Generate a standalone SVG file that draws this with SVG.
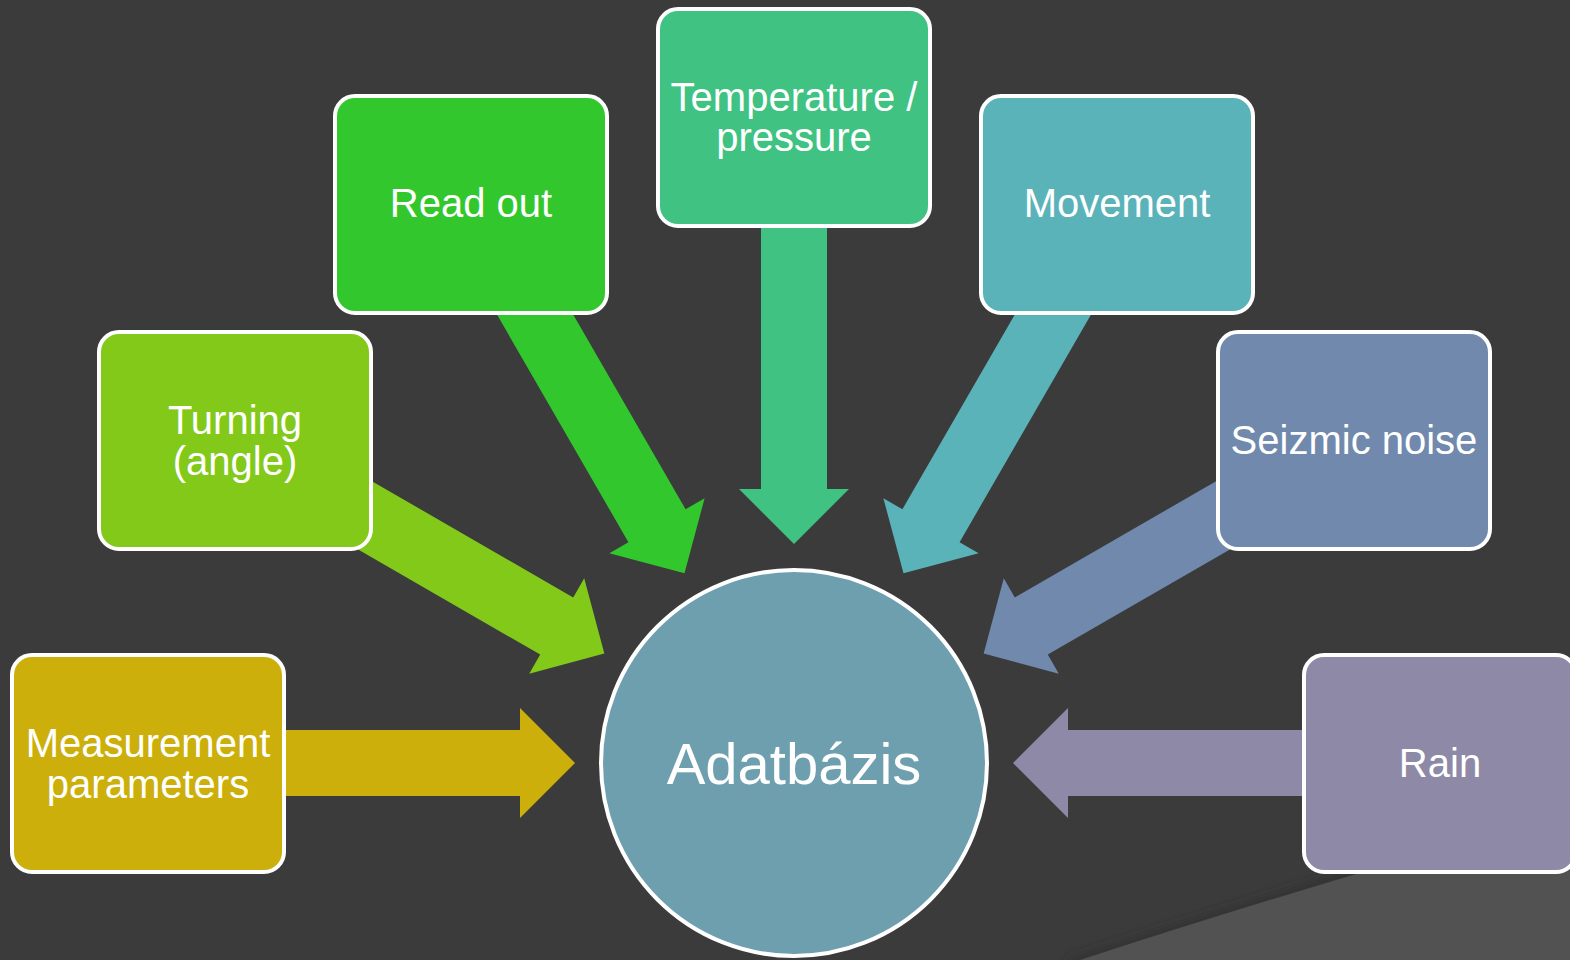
<svg xmlns="http://www.w3.org/2000/svg" width="1570" height="960" viewBox="0 0 1570 960">
<style>
.box{stroke:#FFFFFF;stroke-width:4}
.t{font-family:"Liberation Sans",Arial,sans-serif;font-size:40px;fill:#FFFFFF;text-anchor:middle}
.big{font-size:58px}
</style>
<defs>
<path id="arr" d="M -646 -33 L -274 -33 L -274 -55 L -219 0 L -274 55 L -274 33 L -646 33 Z"/>
<filter id="blur" x="-10%" y="-50%" width="120%" height="200%"><feGaussianBlur stdDeviation="6"/></filter>
</defs>
<rect x="0" y="0" width="1570" height="960" fill="#3B3B3B"/>
<path d="M 1070 966 Q 1300 892 1580 810" fill="none" stroke="#2F2F2F" stroke-width="10" filter="url(#blur)"/>
<path d="M 1080 960 Q 1300 888 1570 812 L 1570 960 Z" fill="#525252"/>
<g id="connectors">
<use href="#arr" fill="#CCAF0A" transform="translate(794 763) rotate(0)"/>
<use href="#arr" fill="#82C91A" transform="translate(794 763) rotate(30)"/>
<use href="#arr" fill="#33C72E" transform="translate(794 763) rotate(60)"/>
<use href="#arr" fill="#40C283" transform="translate(794 763) rotate(90)"/>
<use href="#arr" fill="#5AB3B8" transform="translate(794 763) rotate(120)"/>
<use href="#arr" fill="#7089AD" transform="translate(794 763) rotate(150)"/>
<use href="#arr" fill="#8D89A7" transform="translate(794 763) rotate(180)"/>
</g>
<g id="measurement">
<rect class="box" x="12" y="655" width="272" height="217" rx="20" fill="#CCAF0A"/>
<text class="t" x="148" y="757">Measurement</text>
<text class="t" x="148" y="798">parameters</text>
</g>
<g id="turning">
<rect class="box" x="99" y="332" width="272" height="217" rx="20" fill="#82C91A"/>
<text class="t" x="235" y="434">Turning</text>
<text class="t" x="235" y="475">(angle)</text>
</g>
<g id="readout">
<rect class="box" x="335" y="96" width="272" height="217" rx="20" fill="#33C72E"/>
<text class="t" x="471" y="217">Read out</text>
</g>
<g id="temperature">
<rect class="box" x="658" y="9" width="272" height="217" rx="20" fill="#40C283"/>
<text class="t" x="794" y="111">Temperature /</text>
<text class="t" x="794" y="151">pressure</text>
</g>
<g id="movement">
<rect class="box" x="981" y="96" width="272" height="217" rx="20" fill="#5AB3B8"/>
<text class="t" x="1117" y="217">Movement</text>
</g>
<g id="seizmic">
<rect class="box" x="1218" y="332" width="272" height="217" rx="20" fill="#7089AD"/>
<text class="t" x="1354" y="454">Seizmic noise</text>
</g>
<g id="rain">
<rect class="box" x="1304" y="655" width="272" height="217" rx="20" fill="#8D89A7"/>
<text class="t" x="1440" y="777">Rain</text>
</g>
<g id="adatbazis">
<circle class="box" cx="794" cy="763" r="193" fill="#6E9FAF"/>
<text class="t big" x="794" y="784">Adatbázis</text>
</g>
</svg>
